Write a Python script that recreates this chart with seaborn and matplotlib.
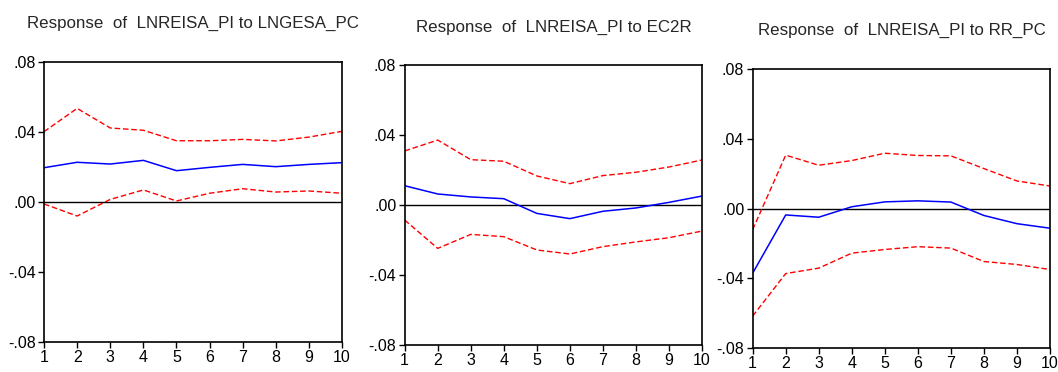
import numpy as np
import pandas as pd
import matplotlib
matplotlib.use("Agg")
import matplotlib.pyplot as plt
import seaborn as sns

steps = list(range(1, 11))

# response of LNREISA_PI to LNGESA_PC
gesa_resp = [0.0196, 0.0227, 0.0217, 0.0238, 0.0179, 0.0198, 0.0215, 0.0202, 0.0215, 0.0225]
gesa_up = [0.0402, 0.0535, 0.0423, 0.0410, 0.0350, 0.0350, 0.0358, 0.0349, 0.0371, 0.0404]
gesa_lo = [-0.0011, -0.0080, 0.0015, 0.0069, 0.0006, 0.0050, 0.0076, 0.0057, 0.0063, 0.0050]

# response of LNREISA_PI to EC2R
ec2r_resp = [0.0110, 0.0063, 0.0046, 0.0036, -0.0048, -0.0078, -0.0036, -0.0017, 0.0015, 0.0051]
ec2r_up = [0.0309, 0.0371, 0.0259, 0.0250, 0.0166, 0.0122, 0.0168, 0.0187, 0.0217, 0.0257]
ec2r_lo = [-0.0086, -0.0248, -0.0168, -0.0181, -0.0257, -0.0280, -0.0238, -0.0211, -0.0187, -0.0149]

# response of LNREISA_PI to RR_PC
rr_resp = [-0.0371, -0.0037, -0.0050, 0.0010, 0.0038, 0.0044, 0.0037, -0.0040, -0.0087, -0.0113]
rr_up = [-0.0121, 0.0306, 0.0248, 0.0275, 0.0317, 0.0304, 0.0302, 0.0229, 0.0158, 0.0129]
rr_lo = [-0.0617, -0.0373, -0.0342, -0.0256, -0.0235, -0.0219, -0.0227, -0.0304, -0.0321, -0.0350]

titles = ["Response  of  LNREISA_PI to LNGESA_PC",
          "Response  of  LNREISA_PI to EC2R",
          "Response  of  LNREISA_PI to RR_PC"]
yticks = [-0.08, -0.04, 0.0, 0.04, 0.08]
ytick_labels = ["-.08", "-.04", ".00", ".04", ".08"]

sns.set_style("white")
plt.rcParams['font.family'] = ['Liberation Sans', 'DejaVu Sans']

fig = plt.figure(figsize=(10.58, 3.72), dpi=100)

boxes = [[0.0416, 0.0806, 0.2817, 0.7527],
         [0.3825, 0.0726, 0.2810, 0.7527],
         [0.7114, 0.0645, 0.2810, 0.7500]]
title_pos = [(0.1824, 0.938), (0.5236, 0.927), (0.8526, 0.919)]
panels = [(gesa_resp, gesa_up, gesa_lo),
          (ec2r_resp, ec2r_up, ec2r_lo),
          (rr_resp, rr_up, rr_lo)]

for i, (resp, up, lo) in enumerate(panels):
    ax = fig.add_axes(boxes[i])
    ax.axhline(0, color="black", lw=1.0, zorder=1)
    sns.lineplot(x=steps, y=up, ax=ax, color="red", lw=1.0, linestyle=(0, (4, 2)))
    sns.lineplot(x=steps, y=lo, ax=ax, color="red", lw=1.0, linestyle=(0, (4, 2)))
    sns.lineplot(x=steps, y=resp, ax=ax, color="blue", lw=1.1)
    ax.set_xlim(1, 10)
    ax.set_ylim(-0.08, 0.08)
    ax.set_xticks(steps)
    ax.set_xticklabels([str(s) for s in steps])
    ax.set_yticks(yticks)
    ax.set_yticklabels(ytick_labels)
    ax.tick_params(axis="both", direction="out", length=4, width=1, labelsize=11.5,
                   left=True, bottom=True, pad=2, colors="black")
    for sp in ax.spines.values():
        sp.set_color("black")
        sp.set_linewidth(1.2)
    fig.text(title_pos[i][0], title_pos[i][1], titles[i], ha="center", va="center",
             fontsize=12.2)

fig.savefig("out.png", dpi=100)
